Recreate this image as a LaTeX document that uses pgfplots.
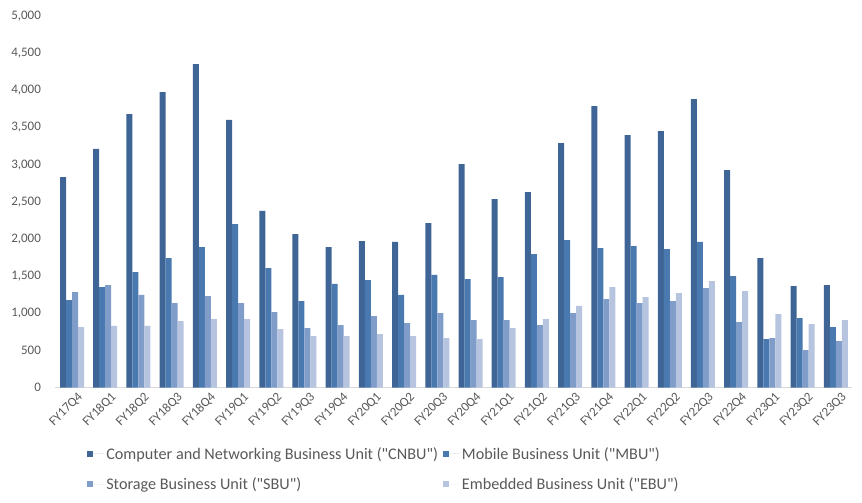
\documentclass[border=0pt]{standalone}
\usepackage{fontspec}
\setmainfont{Carlito}[Ligatures=TeXOff]
\usepackage{pgfplots}
\usepackage{pgfplotstable}
\pgfplotsset{compat=1.18}

\definecolor{cnbu}{RGB}{62,101,149}
\definecolor{mbu}{RGB}{74,121,176}
\definecolor{sbu}{RGB}{128,157,201}
\definecolor{ebu}{RGB}{182,196,223}
\definecolor{labelgray}{RGB}{89,89,89}
\definecolor{axisgray}{RGB}{217,217,217}

% Quarterly revenue by business unit (US$ millions)
\pgfplotstableread{
idx quarter CNBU MBU SBU EBU
0  FY17Q4 2834 1179 1287 816
1  FY18Q1 3211 1354 1381 830
2  FY18Q2 3681 1556 1247 830
3  FY18Q3 3977 1744 1139 897
4  FY18Q4 4354 1892 1233 924
5  FY19Q1 3601 2202 1139 924
6  FY19Q2 2377 1610 1018 789
7  FY19Q3 2067 1166 803 695
8  FY19Q4 1892 1395 843 695
9  FY20Q1 1973 1448 964 722
10 FY20Q2 1960 1247 870 695
11 FY20Q3 2215 1516 1004 668
12 FY20Q4 3009 1462 910 655
13 FY21Q1 2538 1489 910 803
14 FY21Q2 2632 1798 843 924
15 FY21Q3 3291 1986 1004 1099
16 FY21Q4 3789 1879 1193 1354
17 FY22Q1 3399 1906 1139 1220
18 FY22Q2 3453 1865 1166 1273
19 FY22Q3 3883 1960 1341 1435
20 FY22Q4 2928 1502 883 1300
21 FY23Q1 1744 655 668 991
22 FY23Q2 1368 937 507 856
23 FY23Q3 1381 816 628 910
}\revenue

\pgfplotsset{
  sq legend/.style={
    legend image code/.code={
      \fill[##1,draw=none] (0pt,-3pt) rectangle (6pt,3pt);
      \path (0pt,0pt) -- (17pt,0pt);
    }
  }
}

\begin{document}
\begin{tikzpicture}
\path[use as bounding box] (0pt,0pt) rectangle (862pt,503pt);
\begin{axis}[
  at={(55.4pt,115.3pt)}, anchor=south west,
  scale only axis, width=797pt, height=371.7pt,
  xmin=-0.5, xmax=23.5, ymin=0, ymax=5000,
  ybar=0pt, bar width=6pt,
  xtick=data,
  xticklabels from table={\revenue}{quarter},
  ytick={0,500,...,5000},
  major tick length=0pt,
  axis x line*=bottom, axis y line*=left,
  x axis line style={draw=axisgray, line width=1pt, -},
  y axis line style={draw=none},
  /pgf/number format/assume math mode=true,
  /pgf/number format/.cd, fixed, 1000 sep={,}, /pgfplots/.cd,
  yticklabel style={font=\fontsize{13}{15}\selectfont, text=labelgray, xshift=-11pt},
  xticklabel style={font=\fontsize{13}{15}\selectfont, text=labelgray,
    rotate=45, anchor=north east, inner sep=1pt, xshift=2pt, yshift=-5pt},
  legend columns=2,
  legend cell align=left,
  legend style={draw=none, fill=none,
    at={(0.036,-0.149)}, anchor=north west,
    font=\fontsize{16.2}{19}\selectfont, text=labelgray,
    /tikz/every even column/.append style={column sep=3pt},
    row sep=13pt},
]
\addplot[fill=cnbu, draw=none, sq legend] table[x=idx, y=CNBU] {\revenue};
\addplot[fill=mbu, draw=none, sq legend] table[x=idx, y=MBU] {\revenue};
\addplot[fill=sbu, draw=none, sq legend] table[x=idx, y=SBU] {\revenue};
\addplot[fill=ebu, draw=none, sq legend] table[x=idx, y=EBU] {\revenue};
\legend{Computer and Networking Business Unit ("CNBU"), Mobile Business Unit ("MBU"),
        Storage Business Unit ("SBU"), Embedded Business Unit ("EBU")}
\end{axis}
\end{tikzpicture}
\end{document}
